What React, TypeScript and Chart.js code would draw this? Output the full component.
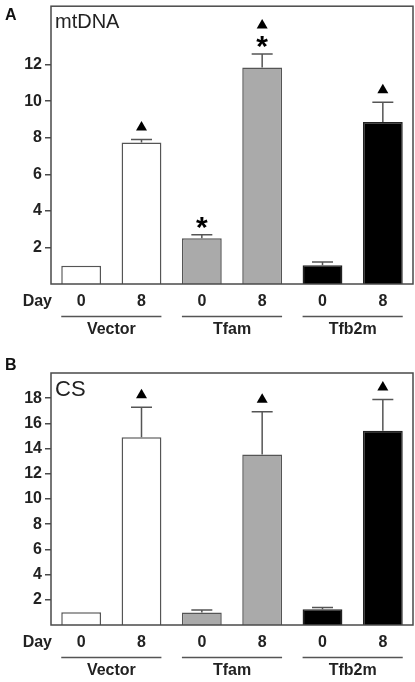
import React, { useEffect, useRef } from "react";
import { Chart, registerables } from "chart.js";

Chart.register(...registerables);

const FONT = "'Liberation Sans', Arial, Helvetica, sans-serif";

const categories = ["0", "8", "0", "8", "0", "8"];
const groups = ["Vector", "Tfam", "Tfb2m"];
const barFills = ["#ffffff", "#ffffff", "#aaaaaa", "#aaaaaa", "#000000", "#000000"];
const barBorders = ["#555555", "#555555", "#555555", "#555555", "#222222", "#222222"];

const mtdnaValues = [1.0, 7.74, 2.51, 11.85, 1.03, 8.86];
const mtdnaErrors = [0, 0.16, 0.19, 0.74, 0.18, 1.09];
const mtdnaMarkers = [[], ["▲"], ["*"], ["*", "▲"], [], ["▲"]];
const mtdnaTicks = [2, 4, 6, 8, 10, 12];

const csValues = [1.02, 14.9, 1.0, 13.53, 1.25, 15.41];
const csErrors = [0, 2.39, 0.2, 3.39, 0.14, 2.49];
const csMarkers = [[], ["▲"], [], ["▲"], [], ["▲"]];
const csTicks = [2, 4, 6, 8, 10, 12, 14, 16, 18];

type PanelCfg = {
  letter: string;
  title: string;
  titleSize: number;
  values: number[];
  errors: number[];
  markers: string[][];
  ticks: number[];
  yMax: number;
  padTop: number;
  xHeight: number;
};

const panelPlugin = {
  id: "panelDecor",
  afterDatasetsDraw(chart: any, _args: any, opts: any) {
    const cfg: PanelCfg = opts.cfg;
    const ctx = chart.ctx;
    const meta = chart.getDatasetMeta(0);
    const y = chart.scales.y;
    ctx.save();
    meta.data.forEach((el: any, i: number) => {
      const v = cfg.values[i];
      const e = cfg.errors[i];
      const x = el.x;
      let base = el.y;
      if (e > 0) {
        const ye = y.getPixelForValue(v + e);
        ctx.strokeStyle = "#555555";
        ctx.lineWidth = 1.5;
        ctx.beginPath();
        ctx.moveTo(x, el.y);
        ctx.lineTo(x, ye);
        ctx.moveTo(x - 10.5, ye);
        ctx.lineTo(x + 10.5, ye);
        ctx.stroke();
        base = ye;
      }
      let cy = base;
      cfg.markers[i].forEach((m: string, k: number) => {
        cy -= k === 0 ? (m === "*" ? 12 : 13.5) : 18;
        ctx.fillStyle = "#000000";
        if (m === "▲") {
          ctx.beginPath();
          ctx.moveTo(x, cy - 5);
          ctx.lineTo(x - 5.5, cy + 4.5);
          ctx.lineTo(x + 5.5, cy + 4.5);
          ctx.closePath();
          ctx.fill();
        } else {
          ctx.font = `bold 30px ${FONT}`;
          ctx.textAlign = "center";
          ctx.textBaseline = "alphabetic";
          const mm = ctx.measureText(m);
          const off = (mm.actualBoundingBoxAscent - mm.actualBoundingBoxDescent) / 2;
          ctx.fillText(m, x, cy + off);
        }
      });
    });
    ctx.restore();
  },
  afterDraw(chart: any, _args: any, opts: any) {
    const cfg: PanelCfg = opts.cfg;
    const ctx = chart.ctx;
    const { left, right, top, bottom } = chart.chartArea;
    const meta = chart.getDatasetMeta(0);
    ctx.save();
    // frame
    ctx.strokeStyle = "#4a4a4a";
    ctx.lineWidth = 1.5;
    ctx.strokeRect(left, top, right - left, bottom - top);
    // group lines and labels
    ctx.fillStyle = "#222222";
    ctx.font = `bold 16px ${FONT}`;
    ctx.textAlign = "center";
    ctx.textBaseline = "middle";
    groups.forEach((g, gi) => {
      const a = meta.data[gi * 2];
      const b = meta.data[gi * 2 + 1];
      const x1 = a.x - a.width / 2;
      const x2 = b.x + b.width / 2;
      ctx.strokeStyle = "#555555";
      ctx.lineWidth = 1.5;
      ctx.beginPath();
      ctx.moveTo(x1, bottom + 32.5);
      ctx.lineTo(x2, bottom + 32.5);
      ctx.stroke();
      ctx.fillText(g, (x1 + x2) / 2, bottom + 46);
    });
    // Day
    ctx.textAlign = "right";
    ctx.fillText("Day", left + 1, bottom + 17.5);
    // panel letter
    ctx.textAlign = "left";
    ctx.textBaseline = "alphabetic";
    ctx.fillStyle = "#111111";
    ctx.font = `bold 16px ${FONT}`;
    ctx.fillText(cfg.letter, 5, top < 16 ? 20 : top - 3);
    // title
    ctx.fillStyle = "#222222";
    ctx.font = `${cfg.titleSize}px ${FONT}`;
    ctx.fillText(cfg.title, left + 4, top + 7.5 + cfg.titleSize * 0.716);
    ctx.restore();
  },
};

function Panel({ cfg, height }: { cfg: PanelCfg; height: number }) {
  const ref = useRef<HTMLCanvasElement | null>(null);
  useEffect(() => {
    if (!ref.current) return;
    const chart = new Chart(ref.current, {
      type: "bar",
      data: {
        labels: categories,
        datasets: [
          {
            data: cfg.values,
            backgroundColor: barFills,
            borderColor: barBorders,
            borderWidth: 1.5,
            barPercentage: 0.66,
            categoryPercentage: 1,
          },
        ],
      },
      options: {
        responsive: false,
        animation: false,
        events: [],
        layout: { padding: { left: 0, right: 2, top: cfg.padTop, bottom: 0 } },
        plugins: {
          legend: { display: false },
          tooltip: { enabled: false },
          title: { display: false },
          panelDecor: { cfg },
        } as any,
        scales: {
          x: {
            grid: { display: false },
            border: { display: false },
            ticks: {
              color: "#222222",
              font: { family: FONT, size: 16, weight: "bold" },
              padding: 0,
              maxRotation: 0,
            },
            afterFit: (s: any) => {
              s.height = cfg.xHeight;
            },
          },
          y: {
            min: 0,
            max: cfg.yMax,
            grid: {
              display: true,
              drawOnChartArea: false,
              drawTicks: true,
              tickLength: 6,
              color: "#4a4a4a",
              lineWidth: 1.5,
            },
            border: { display: false },
            ticks: {
              color: "#222222",
              font: { family: FONT, size: 16, weight: "bold", lineHeight: 0.4 },
              padding: 3,
            },
            afterBuildTicks: (s: any) => {
              s.ticks = cfg.ticks.map((v) => ({ value: v }));
            },
            afterFit: (s: any) => {
              s.width = 51;
            },
          },
        },
      },
      plugins: [panelPlugin],
    });
    return () => chart.destroy();
  }, [cfg]);
  return <canvas ref={ref} width={415} height={height} style={{ display: "block" }} />;
}

const cfgA: PanelCfg = {
  letter: "A",
  title: "mtDNA",
  titleSize: 20,
  values: mtdnaValues,
  errors: mtdnaErrors,
  markers: mtdnaMarkers,
  ticks: mtdnaTicks,
  yMax: 15.2,
  padTop: 4,
  xHeight: 56,
};

const cfgB: PanelCfg = {
  letter: "B",
  title: "CS",
  titleSize: 22,
  values: csValues,
  errors: csErrors,
  markers: csMarkers,
  ticks: csTicks,
  yMax: 20,
  padTop: 33,
  xHeight: 57,
};

export default function App() {
  return (
    <div style={{ position: "absolute", left: 0, top: 0, width: 415, height: 682, background: "#ffffff" }}>
      <Panel cfg={cfgA} height={340} />
      <Panel cfg={cfgB} height={342} />
    </div>
  );
}
